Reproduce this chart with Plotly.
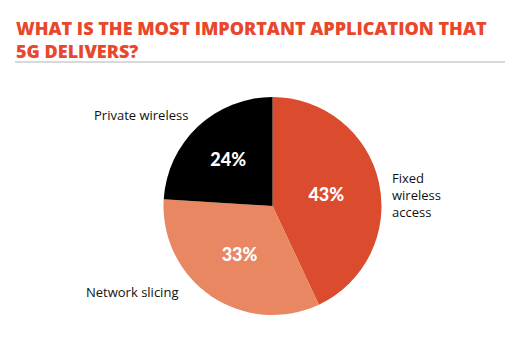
import plotly.graph_objects as go

# Survey results: most important 5G application
categories = ["Fixed wireless access", "Network slicing", "Private wireless"]
shares = [43, 33, 24]
colors = ["#DB4B2E", "#E88762", "#000000"]

W, H = 529, 339

fig = go.Figure(
    go.Pie(
        labels=categories,
        values=shares,
        marker=dict(colors=colors, line=dict(width=0)),
        sort=False,
        direction="clockwise",
        rotation=0,
        texttemplate="%{value}%",
        textposition="inside",
        insidetextorientation="horizontal",
        textfont=dict(family="Lato Black, Lato, Open Sans", size=18, color="white"),
        hoverinfo="label+percent",
        showlegend=False,
        domain=dict(x=[163 / W, 382 / W], y=[(H - 315) / H, (H - 97) / H]),
    )
)

label_font = dict(family="Open Sans, Lato, sans-serif", size=13, color="#111111")

fig.add_annotation(
    x=92 / W, y=1 - 115 / H, xref="paper", yref="paper",
    text="Private wireless", showarrow=False, xanchor="left", yanchor="middle",
    font=label_font,
)
fig.add_annotation(
    x=84 / W, y=1 - 292 / H, xref="paper", yref="paper",
    text="Network slicing", showarrow=False, xanchor="left", yanchor="middle",
    font=label_font,
)
fig.add_annotation(
    x=390 / W, y=1 - 195 / H, xref="paper", yref="paper",
    text="Fixed<br>wireless<br>access", showarrow=False, xanchor="left", yanchor="middle",
    align="left", font=label_font,
)

# Heading
fig.add_annotation(
    x=14 / W, y=1 - 14 / H, xref="paper", yref="paper",
    text="WHAT IS THE MOST IMPORTANT APPLICATION THAT<br>5G DELIVERS?",
    showarrow=False, xanchor="left", yanchor="top", align="left",
    font=dict(family="Open Sans", size=18, weight=800, color="#E8472B"),
)
fig.add_shape(
    type="line", xref="paper", yref="paper",
    x0=15 / W, x1=505 / W, y0=1 - 62 / H, y1=1 - 62 / H,
    line=dict(color="#D9D9D9", width=2),
)

fig.update_layout(
    width=W, height=H,
    margin=dict(l=0, r=0, t=0, b=0),
    paper_bgcolor="white", plot_bgcolor="white",
)

fig.write_html("out.html")
